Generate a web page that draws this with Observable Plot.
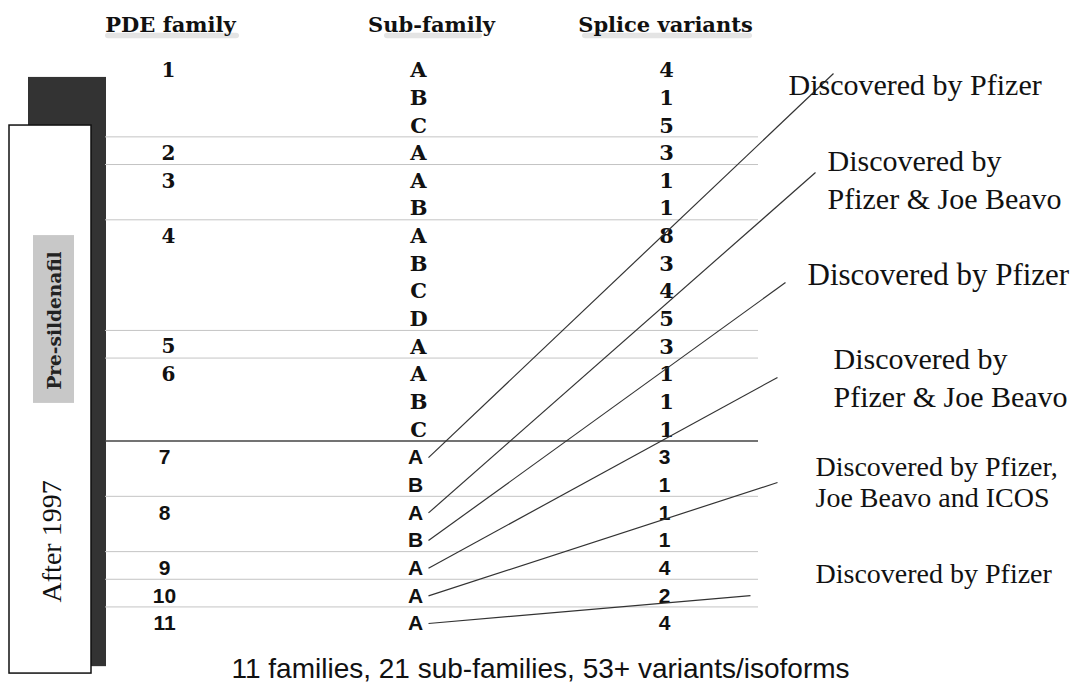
<!DOCTYPE html>
<html>
<head>
<meta charset="utf-8">
<script src="https://cdn.jsdelivr.net/npm/d3@7"></script>
<script src="https://cdn.jsdelivr.net/npm/@observablehq/plot@0.6"></script>
<style>
  html, body { margin: 0; padding: 0; background: #fff; }
  svg { display: block; }
</style>
</head>
<body>
<div id="chart"></div>
<script>
// ---------------- data ----------------
const headers = ["PDE family", "Sub-family", "Splice variants"];
const families = ["1", "2", "3", "4", "5", "6", "7", "8", "9", "10", "11"];
const subFamilies = [
  ["A", "B", "C"], ["A"], ["A", "B"], ["A", "B", "C", "D"], ["A"], ["A", "B", "C"],
  ["A", "B"], ["A", "B"], ["A"], ["A"], ["A"]
];
const variants = [
  [4, 1, 5], [3], [1, 1], [8, 3, 4, 5], [3], [1, 1, 1],
  [3, 1], [1, 1], [4], [2], [4]
];
const eras = ["Pre-sildenafil", "After 1997"];
const preFamilyCount = 6;
const notes = [
  "Discovered by Pfizer",
  "Discovered by\nPfizer & Joe Beavo",
  "Discovered by Pfizer",
  "Discovered by\nPfizer & Joe Beavo",
  "Discovered by Pfizer,\nJoe Beavo and ICOS",
  "Discovered by Pfizer"
];
const noteTargets = [["7", "A"], ["8", "A"], ["8", "B"], ["9", "A"], ["10", "A"], ["11", "A"]];
const summary = "11 families, 21 sub-families, 53+ variants/isoforms";

// ---------------- table built from the arrays ----------------
const rows = [];
families.forEach((f, fi) => {
  subFamilies[fi].forEach((s, si) => {
    rows.push({
      row: rows.length, family: f, sub: s, variants: variants[fi][si],
      fi, pre: fi < preFamilyCount, first: si === 0,
      last: si === subFamilies[fi].length - 1
    });
  });
});
const rowOf = (f, s) => rows.find(d => d.family === f && d.sub === s).row;

// ---------------- layout (positions & styles) ----------------
const colX = { family: 168, sub: 418, variants: 666 };
const headerX = [170, 431, 665];
const headerW = [134, 98, 170];
const headerY = -1.65;
const lineX1 = 105, lineX2 = 758;
const linkStartX = 428;
// annotation layout: [text x, text y, link end x, link end y, font size]
const noteLayout = [
  [788, 0.43, 833, 0.11, 30],
  [827, 3.87, 815, 3.69, 30],
  [807, 7.31, 785, 7.67, 31],
  [833, 11.03, 777, 11.10, 30],
  [815, 14.88, 777, 14.90, 28],
  [815, 18.16, 750, 18.99, 28]
];
const noteData = notes.map((t, i) => ({
  text: t, x: noteLayout[i][0], y: noteLayout[i][1],
  lx: noteLayout[i][2], ly: noteLayout[i][3], size: noteLayout[i][4],
  from: rowOf(...noteTargets[i]), big: i < 4
}));

const SERIF = "DejaVu Serif, serif";
const TIMES = "Liberation Serif, Times New Roman, serif";
const SANS = "Liberation Sans, Arial, sans-serif";

const pre = rows.filter(d => d.pre);
const post = rows.filter(d => !d.pre);
const seps = rows.filter(d => d.last && d.row < rows.length - 1);

const chart = Plot.plot({
  width: 1081,
  height: 688,
  margin: 0,
  style: { background: "#fff" },
  x: { type: "linear", domain: [0, 1081], range: [0, 1081], axis: null },
  y: { type: "linear", domain: [-2.532, 22.35], range: [0, 688], axis: null },
  marks: [
    // era box: dark shadow, white box, grey label box
    Plot.rect([0], { x1: 28, x2: 106, y1: 0.25, y2: 21.56, fill: "#333" }),
    Plot.rect([0], { x1: 9, x2: 91, y1: 1.99, y2: 21.81, fill: "#fff", stroke: "#111", strokeWidth: 1.5 }),
    Plot.rect([0], { x1: 33, x2: 74, y1: 5.97, y2: 12.04, fill: "#c8c8c8" }),
    Plot.text([eras[0]], { x: 55, y: 9.04, text: d => d, rotate: -90, fontFamily: SERIF, fontWeight: "bold", fontSize: 18.5, fill: "#222" }),
    Plot.text([eras[1]], { x: 52, y: 17.03, text: d => d, rotate: -90, fontFamily: TIMES, fontSize: 28, fill: "#111" }),

    // separators
    Plot.ruleY(seps.filter(d => d.fi !== preFamilyCount - 1), { y: d => d.row + 0.4, x1: lineX1, x2: lineX2, stroke: "#c4c4c4", strokeWidth: 1 }),
    Plot.ruleY(seps.filter(d => d.fi === preFamilyCount - 1), { y: d => d.row + 0.4, x1: lineX1, x2: lineX2, stroke: "#444", strokeWidth: 1.6 }),

    // headers with soft shadow smear under them
    Plot.rect(headers, { x1: (d, i) => headerX[i] - headerW[i] / 2 + 2, x2: (d, i) => headerX[i] + headerW[i] / 2 + 2, y1: headerY + 0.3, y2: headerY + 0.5, fill: "#e4e4e4", rx: 3 }),
    Plot.text(headers, { x: (d, i) => headerX[i], y: headerY, text: d => d, fontFamily: SERIF, fontWeight: "bold", fontSize: 21, fill: "#111" }),

    // pre-sildenafil rows (serif)
    Plot.text(pre.filter(d => d.first), { x: colX.family, y: "row", text: "family", fontFamily: SERIF, fontWeight: "bold", fontSize: 20, fill: "#111" }),
    Plot.text(pre, { x: colX.sub, y: "row", text: "sub", fontFamily: SERIF, fontWeight: "bold", fontSize: 21, fill: "#111" }),
    Plot.text(pre, { x: colX.variants, y: "row", text: d => String(d.variants), fontFamily: SERIF, fontWeight: "bold", fontSize: 21, fill: "#111" }),

    // after 1997 rows (sans)
    Plot.text(post.filter(d => d.first), { x: colX.family - 4, y: "row", text: "family", fontFamily: SANS, fontWeight: "bold", fontSize: 21, fill: "#111" }),
    Plot.text(post, { x: colX.sub - 3, y: "row", text: "sub", fontFamily: SANS, fontWeight: "bold", fontSize: 21, fill: "#111" }),
    Plot.text(post, { x: colX.variants - 2, y: "row", text: d => String(d.variants), fontFamily: SANS, fontWeight: "bold", fontSize: 21, fill: "#111" }),

    // connector lines
    Plot.link(noteData, { x1: linkStartX, y1: "from", x2: "lx", y2: "ly", stroke: "#333", strokeWidth: 1.2 }),

    // annotations
    Plot.text(noteData.filter(d => d.big), { x: "x", y: "y", text: "text", fontSize: "size", textAnchor: "start", lineHeight: 1.27, fontFamily: TIMES, fill: "#111" }),
    Plot.text(noteData.filter(d => !d.big), { x: "x", y: "y", text: "text", fontSize: "size", textAnchor: "start", lineHeight: 1.1, fontFamily: TIMES, fill: "#111" }),

    // summary
    Plot.text([summary], { x: 540, y: 21.63, text: d => d, fontFamily: SANS, fontSize: 28, fill: "#111" })
  ]
});
document.getElementById("chart").append(chart);
</script>
</body>
</html>
